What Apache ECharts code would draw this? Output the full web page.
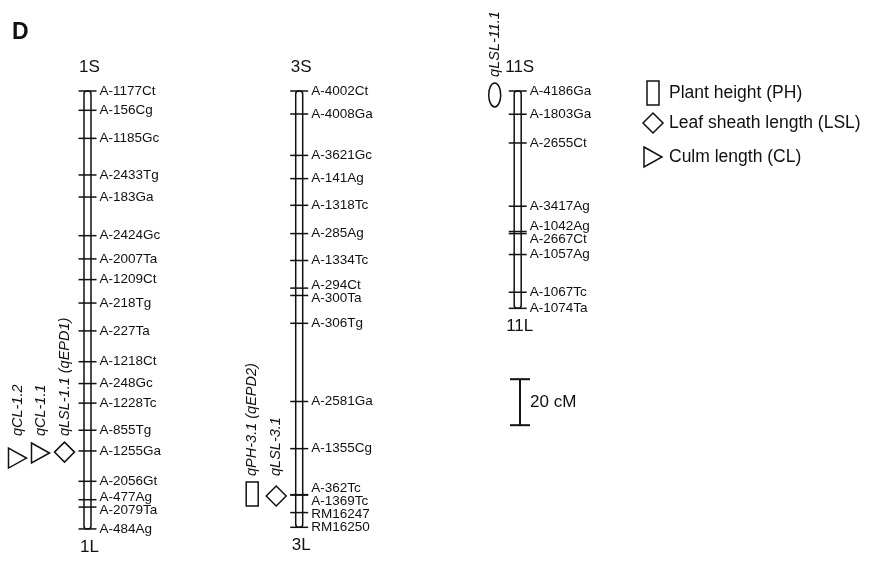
<!DOCTYPE html>
<html>
<head>
<meta charset="utf-8">
<script src="https://cdn.jsdelivr.net/npm/echarts@6/dist/echarts.min.js"></script>
<style>
  html, body { margin: 0; padding: 0; background: #fff; }
  #chart { width: 870px; height: 562px; }
</style>
</head>
<body>
<div id="chart"></div>
<script>
// ---------------- DATA ----------------
const chromosomes = ['1', '3', '11'];

const chr1Markers = ['A-1177Ct','A-156Cg','A-1185Gc','A-2433Tg','A-183Ga','A-2424Gc','A-2007Ta','A-1209Ct','A-218Tg','A-227Ta','A-1218Ct','A-248Gc','A-1228Tc','A-855Tg','A-1255Ga','A-2056Gt','A-477Ag','A-2079Ta','A-484Ag'];
const chr1Pos = [0, 8.4, 20.6, 36.5, 46.1, 62.9, 73.0, 82.0, 92.2, 104.3, 117.7, 127.2, 135.7, 147.5, 156.5, 169.7, 177.7, 180.9, 190.4];

const chr3Markers = ['A-4002Ct','A-4008Ga','A-3621Gc','A-141Ag','A-1318Tc','A-285Ag','A-1334Tc','A-294Ct','A-300Ta','A-306Tg','A-2581Ga','A-1355Cg','A-362Tc','A-1369Tc','RM16247','RM16250'];
const chr3Pos = [0, 10.0, 28.0, 38.1, 49.7, 62.0, 73.7, 85.7, 88.9, 101.0, 135.0, 155.5, 175.5, 175.7, 183.3, 189.7];

const chr11Markers = ['A-4186Ga','A-1803Ga','A-2655Ct','A-3417Ag','A-1042Ag','A-2667Ct','A-1057Ag','A-1067Tc','A-1074Ta'];
const chr11Pos = [0, 10.1, 22.6, 50.1, 61.1, 62.0, 71.1, 87.5, 94.5];

const qtlNames = ['qLSL-1.1 (qEPD1)', 'qCL-1.1', 'qCL-1.2', 'qLSL-3.1', 'qPH-3.1 (qEPD2)', 'qLSL-11.1'];
const qtlChrom = ['1', '1', '1', '3', '3', '11'];
const qtlPos = [157.0, 157.4, 159.6, 176.1, 175.2, 1.7];
const qtlTrait = ['LSL', 'CL', 'CL', 'LSL', 'PH', 'LSL'];

const legendTraits = ['PH', 'LSL', 'CL'];
const legendLabels = ['Plant height (PH)', 'Leaf sheath length (LSL)', 'Culm length (CL)'];

const scaleBarCM = 20;
const scaleBarLabel = '20 cM';
const panelLabel = 'D';

// ---------------- LAYOUT / STYLE ----------------
const FONT = 'Liberation Sans, Arial, Helvetica, sans-serif';
const INK = '#111';
const LW = 1.5;
const AXIS_MAX = 200;          // cM shown in grid height
const GRID_TOP = 91, GRID_H = 460;
const PX_PER_CM = GRID_H / AXIS_MAX;
const CHR_X = [87.5, 299.2, 517.7];
const SLOT_OFFSET = [-23, -47, -70];
const TICK_HALF = 9;
const LABEL_DX = 12;
const LABEL_GAP_PX = 13;
const SCALE_X = 520, SCALE_TOP_CM = 125.3;
const TRAIT_SHAPE = { PH: 'rect', LSL: 'diamond', CL: 'triangle' };
const SHAPE_OVERRIDE = { 'qLSL-11.1': 'ellipse' };
const SHAPE_HALF_H = { rect: 12, diamond: 10, triangle: 10, ellipse: 12 };

const MARKERS = [chr1Markers, chr3Markers, chr11Markers];
const POS = [chr1Pos, chr3Pos, chr11Pos];

function spread(vals, gap) {
  const clusters = [];
  vals.forEach((v, i) => {
    clusters.push({ idx: [i], mean: v });
    while (clusters.length > 1) {
      const b = clusters[clusters.length - 1], a = clusters[clusters.length - 2];
      const aEnd = a.mean + (a.idx.length - 1) / 2 * gap;
      const bStart = b.mean - (b.idx.length - 1) / 2 * gap;
      if (bStart - aEnd < gap) {
        const idx = a.idx.concat(b.idx);
        const mean = idx.reduce((s, k) => s + vals[k], 0) / idx.length;
        clusters.splice(-2, 2, { idx, mean });
      } else break;
    }
  });
  const out = [];
  clusters.forEach(c => c.idx.forEach((k, j) => { out[k] = c.mean + (j - (c.idx.length - 1) / 2) * gap; }));
  return out;
}

const flatMarkers = [];
chromosomes.forEach((c, ci) => {
  const lab = spread(POS[ci], LABEL_GAP_PX / PX_PER_CM);
  MARKERS[ci].forEach((n, k) => flatMarkers.push({ ci, name: n, pos: POS[ci][k], lab: lab[k] }));
});

const qtls = qtlNames.map((n, i) => {
  const ci = chromosomes.indexOf(qtlChrom[i]);
  const slot = qtlChrom.slice(0, i).filter(c => c === qtlChrom[i]).length;
  const shape = SHAPE_OVERRIDE[n] || TRAIT_SHAPE[qtlTrait[i]];
  return { name: n, ci, slot, pos: qtlPos[i], shape };
});

function shapeEl(shape, cx, cy) {
  const style = { fill: 'none', stroke: INK, lineWidth: LW };
  if (shape === 'rect') return { type: 'rect', shape: { x: cx - 6, y: cy - 12, width: 12, height: 24 }, style };
  if (shape === 'diamond') return { type: 'polygon', shape: { points: [[cx, cy - 10], [cx + 10, cy], [cx, cy + 10], [cx - 10, cy]] }, style };
  if (shape === 'triangle') return { type: 'polygon', shape: { points: [[cx - 9, cy - 10], [cx + 9, cy], [cx - 9, cy + 10]] }, style };
  return { type: 'ellipse', shape: { cx, cy, rx: 6, ry: 12 }, style };
}

const chart = echarts.init(document.getElementById('chart'), null, { renderer: 'canvas' });

const legendGraphic = [];
legendTraits.forEach((t, i) => {
  const cy = [93, 123, 157][i];
  const cx = 653;
  legendGraphic.push(shapeEl(TRAIT_SHAPE[t], cx, cy));
  legendGraphic.push({ type: 'text', x: cx + 16, y: cy, style: { text: legendLabels[i], fontSize: 17.5, fontFamily: FONT, fill: INK, align: 'left', verticalAlign: 'middle' } });
});
legendGraphic.push({ type: 'text', x: 12, y: 33, style: { text: panelLabel, fontSize: 23, fontWeight: 'bold', fontFamily: FONT, fill: INK, align: 'left', verticalAlign: 'middle' } });

const option = {
  animation: false,
  backgroundColor: '#fff',
  grid: { left: 0, right: 0, top: GRID_TOP, height: GRID_H },
  xAxis: { type: 'value', min: 0, max: 870, show: false },
  yAxis: { type: 'value', min: 0, max: AXIS_MAX, inverse: true, show: false },
  graphic: legendGraphic,
  series: [
    {
      type: 'custom', name: 'chromosomes', clip: false,
      data: chromosomes.map((c, ci) => [CHR_X[ci], POS[ci][0], POS[ci][POS[ci].length - 1], ci]),
      renderItem: function (params, api) {
        const x = api.value(0);
        const top = api.coord([x, api.value(1)]);
        const bot = api.coord([x, api.value(2)]);
        const name = chromosomes[api.value(3)];
        return {
          type: 'group', children: [
            { type: 'rect', shape: { x: top[0] - 3.5, y: top[1], width: 7, height: bot[1] - top[1], r: 3 }, style: { fill: 'none', stroke: INK, lineWidth: LW } },
            { type: 'text', x: top[0] + 2, y: top[1] - 24, style: { text: name + 'S', fontSize: 17, fontFamily: FONT, fill: INK, align: 'center', verticalAlign: 'middle' } },
            { type: 'text', x: top[0] + 2, y: bot[1] + 18, style: { text: name + 'L', fontSize: 17, fontFamily: FONT, fill: INK, align: 'center', verticalAlign: 'middle' } }
          ]
        };
      }
    },
    {
      type: 'custom', name: 'markers', clip: false,
      data: flatMarkers.map(m => [CHR_X[m.ci], m.pos, m.lab]),
      renderItem: function (params, api) {
        const x = api.value(0);
        const p = api.coord([x, api.value(1)]);
        const l = api.coord([x, api.value(2)]);
        return {
          type: 'group', children: [
            { type: 'line', shape: { x1: p[0] - TICK_HALF, y1: p[1], x2: p[0] + TICK_HALF, y2: p[1] }, style: { stroke: INK, lineWidth: LW } },
            { type: 'text', x: p[0] + LABEL_DX, y: l[1], style: { text: flatMarkers[params.dataIndex].name, fontSize: 13.5, fontFamily: FONT, fill: INK, align: 'left', verticalAlign: 'middle' } }
          ]
        };
      }
    },
    {
      type: 'custom', name: 'qtl', clip: false,
      data: qtls.map(q => [CHR_X[q.ci] + SLOT_OFFSET[q.slot], q.pos]),
      renderItem: function (params, api) {
        const q = qtls[params.dataIndex];
        const p = api.coord([api.value(0), api.value(1)]);
        let minTop = Infinity;
        qtls.forEach(o => {
          if (o.ci !== q.ci) return;
          const c = api.coord([CHR_X[o.ci], o.pos]);
          minTop = Math.min(minTop, c[1] - SHAPE_HALF_H[o.shape]);
        });
        return {
          type: 'group', children: [
            shapeEl(q.shape, p[0], p[1]),
            { type: 'text', x: p[0], y: minTop - 6, rotation: Math.PI / 2, style: { text: q.name, x: 0, y: 0, fontSize: 14.5, fontStyle: 'italic', fontFamily: FONT, fill: INK, align: 'left', verticalAlign: 'middle' } }
          ]
        };
      }
    },
    {
      type: 'custom', name: 'scale', clip: false,
      data: [[SCALE_X, SCALE_TOP_CM, SCALE_TOP_CM + scaleBarCM]],
      renderItem: function (params, api) {
        const a = api.coord([api.value(0), api.value(1)]);
        const b = api.coord([api.value(0), api.value(2)]);
        const st = { stroke: INK, lineWidth: 2 };
        return {
          type: 'group', children: [
            { type: 'line', shape: { x1: a[0], y1: a[1], x2: b[0], y2: b[1] }, style: st },
            { type: 'line', shape: { x1: a[0] - 10, y1: a[1], x2: a[0] + 10, y2: a[1] }, style: st },
            { type: 'line', shape: { x1: b[0] - 10, y1: b[1], x2: b[0] + 10, y2: b[1] }, style: st },
            { type: 'text', x: a[0] + 10, y: (a[1] + b[1]) / 2, style: { text: scaleBarLabel, fontSize: 17, fontFamily: FONT, fill: INK, align: 'left', verticalAlign: 'middle' } }
          ]
        };
      }
    }
  ]
};
chart.setOption(option);
</script>
</body>
</html>
